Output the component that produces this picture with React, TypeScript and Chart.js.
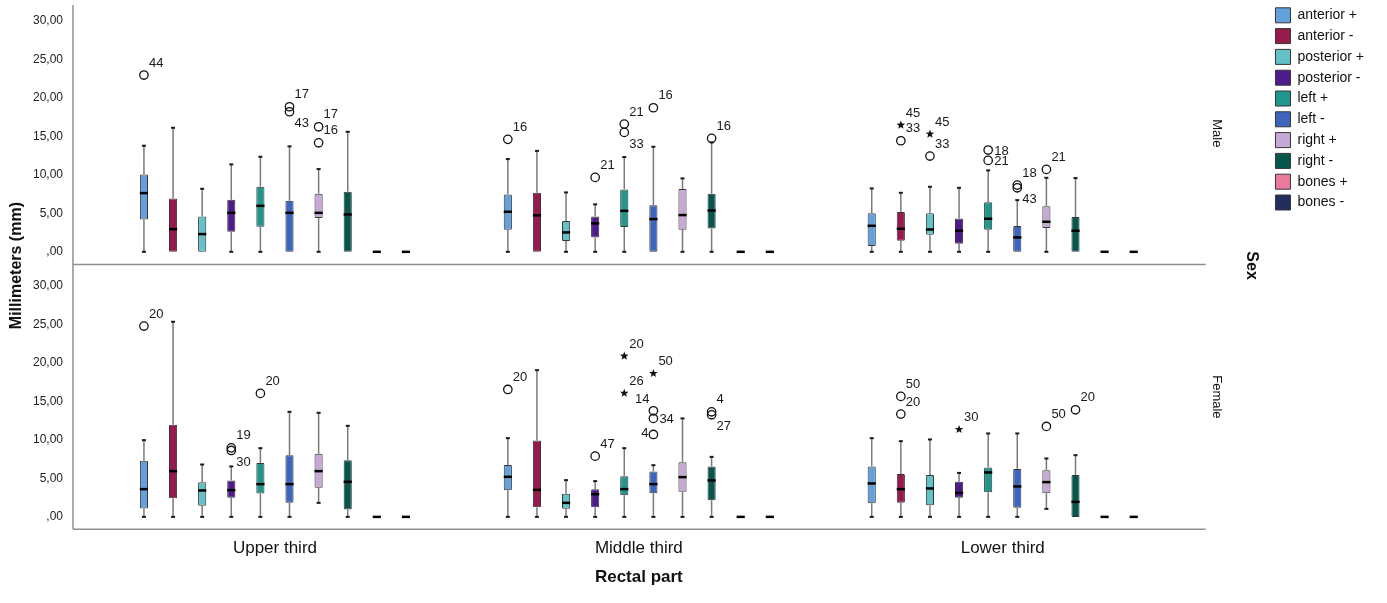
import React, { useEffect, useRef } from 'react';
import { Chart, registerables } from 'chart.js';

Chart.register(...registerables);

// ---------- data ----------
const regions = ['Upper third', 'Middle third', 'Lower third'];
const variables = ['anterior +', 'anterior -', 'posterior +', 'posterior -', 'left +', 'left -', 'right +', 'right -', 'bones +', 'bones -'];
const sexes = ['Male', 'Female'];
const yTicks = [0, 5, 10, 15, 20, 25, 30];

// five-number summaries per variable: [min, q1, median, q3, max]
const maleUpper = [
  [0, 4.2, 7.62, 10.05, 13.77],
  [0, 0, 2.95, 6.93, 16.1],
  [0, 0, 2.3, 4.6, 8.18],
  [0, 2.6, 5.06, 6.75, 11.35],
  [0, 3.25, 5.97, 8.44, 12.34],
  [0, 0, 5.06, 6.62, 13.69],
  [0, 4.38, 5.06, 7.53, 10.74],
  [0, 0, 4.85, 7.79, 15.58],
  [0, 0, 0, 0, 0],
  [0, 0, 0, 0, 0],
];
const maleMiddle = [
  [0, 2.86, 5.2, 7.45, 12.04],
  [0, 0, 4.73, 7.66, 13.1],
  [0, 1.39, 2.52, 3.99, 7.71],
  [0, 1.87, 3.69, 4.6, 6.16],
  [0, 3.21, 5.32, 8.1, 12.3],
  [0, 0, 4.25, 6.06, 13.64],
  [0, 2.86, 4.77, 8.14, 9.53],
  [0, 3.03, 5.36, 7.53, 14.2],
  [0, 0, 0, 0, 0],
  [0, 0, 0, 0, 0],
];
const maleLower = [
  [0, 0.74, 3.38, 4.99, 8.23],
  [0, 1.43, 2.99, 5.16, 7.66],
  [0, 2.2, 2.9, 4.99, 8.44],
  [0, 1.04, 2.73, 4.34, 8.31],
  [0, 2.86, 4.29, 6.45, 10.57],
  [0, 0, 1.87, 3.34, 6.71],
  [0, 3.08, 3.9, 5.92, 9.61],
  [0, 0, 2.73, 4.51, 9.57],
  [0, 0, 0, 0, 0],
  [0, 0, 0, 0, 0],
];
const femaleUpper = [
  [0, 1.09, 3.6, 7.27, 9.96],
  [0, 2.43, 5.94, 11.95, 25.33],
  [0, 1.43, 3.43, 4.51, 6.8],
  [0, 2.47, 3.47, 4.73, 6.55],
  [0, 3.04, 4.25, 7.01, 8.92],
  [0, 1.82, 4.25, 8.01, 13.64],
  [1.82, 3.77, 5.94, 8.18, 13.51],
  [0, 0.96, 4.55, 7.36, 11.82],
  [0, 0, 0, 0, 0],
  [0, 0, 0, 0, 0],
];
const femaleMiddle = [
  [0, 3.47, 5.2, 6.75, 10.22],
  [0, 1.26, 3.51, 9.92, 19.05],
  [0, 1.04, 1.82, 2.99, 4.77],
  [0, 1.26, 2.95, 3.6, 4.64],
  [0, 2.82, 3.6, 5.29, 8.92],
  [0, 3.08, 4.25, 5.9, 6.71],
  [0, 3.25, 5.16, 7.1, 12.78],
  [0, 2.17, 4.73, 6.55, 7.79],
  [0, 0, 0, 0, 0],
  [0, 0, 0, 0, 0],
];
const femaleLower = [
  [0, 1.78, 4.34, 6.55, 10.22],
  [0, 1.82, 3.6, 5.55, 9.83],
  [0, 1.52, 3.69, 5.42, 10.05],
  [0, 2.47, 3.12, 4.55, 5.71],
  [0, 3.21, 5.77, 6.42, 10.83],
  [0, 1.17, 3.95, 6.23, 10.83],
  [1.04, 3.08, 4.51, 6.06, 7.58],
  [0, 0, 1.95, 5.42, 8.01],
  [0, 0, 0, 0, 0],
  [0, 0, 0, 0, 0],
];
const summaries = [
  [maleUpper, maleMiddle, maleLower],
  [femaleUpper, femaleMiddle, femaleLower],
];

// outliers: [sex, region, variable, value, kind ('o' outlier / '*' extreme), case label, label side]
const outliers: [number, number, number, number, string, string, string][] = [
  [0, 0, 0, 22.95, 'o', '44', 'ur'],
  [0, 0, 5, 18.83, 'o', '17', 'ur'],
  [0, 0, 5, 18.18, 'o', '43', 'lr'],
  [0, 0, 6, 16.23, 'o', '17', 'ur'],
  [0, 0, 6, 14.15, 'o', '16', 'ur'],
  [0, 1, 0, 14.6, 'o', '16', 'ur'],
  [0, 1, 3, 9.66, 'o', '21', 'ur'],
  [0, 1, 4, 16.58, 'o', '21', 'ur'],
  [0, 1, 4, 15.5, 'o', '33', 'lr'],
  [0, 1, 5, 18.7, 'o', '16', 'ur'],
  [0, 1, 7, 14.73, 'o', '16', 'ur'],
  [0, 2, 1, 16.45, '*', '45', 'ur'],
  [0, 2, 1, 14.42, 'o', '33', 'ur'],
  [0, 2, 2, 15.29, '*', '45', 'ur'],
  [0, 2, 2, 12.43, 'o', '33', 'ur'],
  [0, 2, 4, 13.21, 'o', '18', 'r'],
  [0, 2, 4, 11.87, 'o', '21', 'r'],
  [0, 2, 5, 8.66, 'o', '18', 'ur'],
  [0, 2, 5, 8.31, 'o', '43', 'lr'],
  [0, 2, 6, 10.7, 'o', '21', 'ur'],
  [1, 0, 0, 24.77, 'o', '20', 'ur'],
  [1, 0, 3, 8.96, 'o', '19', 'ur'],
  [1, 0, 3, 8.62, 'o', '30', 'lr'],
  [1, 0, 4, 16.03, 'o', '20', 'ur'],
  [1, 1, 0, 16.54, 'o', '20', 'ur'],
  [1, 1, 3, 7.88, 'o', '47', 'ur'],
  [1, 1, 4, 20.87, '*', '20', 'ur'],
  [1, 1, 4, 16.06, '*', '26', 'ur'],
  [1, 1, 5, 18.62, '*', '50', 'ur'],
  [1, 1, 5, 13.77, 'o', '14', 'ul'],
  [1, 1, 5, 12.78, 'o', '34', 'r'],
  [1, 1, 5, 10.7, 'o', '4', 'l'],
  [1, 1, 7, 13.64, 'o', '4', 'ur'],
  [1, 1, 7, 13.25, 'o', '27', 'lr'],
  [1, 2, 1, 15.64, 'o', '50', 'ur'],
  [1, 2, 1, 13.34, 'o', '20', 'ur'],
  [1, 2, 3, 11.35, '*', '30', 'ur'],
  [1, 2, 6, 11.74, 'o', '50', 'ur'],
  [1, 2, 7, 13.9, 'o', '20', 'ur'],
];

// ---------- styles ----------
const colors = ['#64a0dc', '#961a4b', '#62c2c6', '#4f1a8c', '#1f978d', '#3c66be', '#c6a9d6', '#06564c', '#ea7a9c', '#232d5f'];
const FONT = "'Liberation Sans', Arial, sans-serif";
const axisIds = ['yM', 'yF'];

const fmt = (v: number | string) => {
  const n = Number(v);
  return n === 0 ? ',00' : n.toFixed(2).replace('.', ',');
};

function line(ctx: CanvasRenderingContext2D, x1: number, y1: number, x2: number, y2: number) {
  ctx.beginPath();
  ctx.moveTo(x1, y1);
  ctx.lineTo(x2, y2);
  ctx.stroke();
}

function star(ctx: CanvasRenderingContext2D, x: number, y: number, R: number, r: number) {
  ctx.beginPath();
  for (let i = 0; i < 10; i++) {
    const a = -Math.PI / 2 + (i * Math.PI) / 5;
    const rad = i % 2 === 0 ? R : r;
    const px = x + rad * Math.cos(a);
    const py = y + rad * Math.sin(a);
    if (i === 0) ctx.moveTo(px, py);
    else ctx.lineTo(px, py);
  }
  ctx.closePath();
  ctx.fill();
}

const boxPlugin = {
  id: 'boxExtras',
  afterDatasetsDraw(chart: any) {
    const ctx: CanvasRenderingContext2D = chart.ctx;
    ctx.save();
    chart.data.datasets.forEach((ds: any, di: number) => {
      const meta = chart.getDatasetMeta(di);
      const ys = chart.scales[ds.yAxisID];
      meta.data.forEach((el: any, r: number) => {
        const [mn, q1, md, q3, mx] = summaries[ds.sexIndex][r][ds.varIndex];
        const x = el.x;
        const hw = el.width / 2;
        ctx.lineCap = 'butt';
        ctx.strokeStyle = '#7a7a7a';
        ctx.lineWidth = 1.5;
        if (mx > q3) line(ctx, x, ys.getPixelForValue(q3), x, ys.getPixelForValue(mx));
        if (mn < q1) line(ctx, x, ys.getPixelForValue(q1), x, ys.getPixelForValue(mn));
        ctx.strokeStyle = '#1a1a1a';
        ctx.lineWidth = 2;
        if (mx > q3) line(ctx, x - 2, ys.getPixelForValue(mx), x + 2, ys.getPixelForValue(mx));
        if (mn < q1) line(ctx, x - 2, ys.getPixelForValue(mn), x + 2, ys.getPixelForValue(mn));
        ctx.strokeStyle = '#000';
        ctx.lineWidth = 2.5;
        const pm = ys.getPixelForValue(md);
        line(ctx, x - hw, pm, x + hw, pm);
      });
    });
    ctx.font = `13px ${FONT}`;
    ctx.textBaseline = 'middle';
    outliers.forEach(([s, r, k, value, kind, label, side]) => {
      const el = chart.getDatasetMeta(s * variables.length + k).data[r];
      const ys = chart.scales[axisIds[s]];
      const x = el.x;
      const y = ys.getPixelForValue(value);
      ctx.fillStyle = '#111';
      ctx.strokeStyle = '#111';
      ctx.lineWidth = 1.3;
      if (kind === 'o') {
        ctx.beginPath();
        ctx.arc(x, y, 4.2, 0, Math.PI * 2);
        ctx.stroke();
      } else {
        star(ctx, x, y, 4.5, 1.9);
      }
      ctx.fillStyle = '#1a1a1a';
      if (side === 'ur') { ctx.textAlign = 'left'; ctx.fillText(label, x + 5, y - 12); }
      else if (side === 'lr') { ctx.textAlign = 'left'; ctx.fillText(label, x + 5, y + 12); }
      else if (side === 'r') { ctx.textAlign = 'left'; ctx.fillText(label, x + 6, y + 1); }
      else if (side === 'ul') { ctx.textAlign = 'right'; ctx.fillText(label, x - 4, y - 11); }
      else { ctx.textAlign = 'right'; ctx.fillText(label, x - 5, y - 1); }
    });
    ctx.restore();
  },
};

const framePlugin = {
  id: 'frame',
  afterDraw(chart: any) {
    const ctx: CanvasRenderingContext2D = chart.ctx;
    const { chartArea } = chart;
    const yM = chart.scales.yM;
    const yF = chart.scales.yF;
    const xl = chartArea.left - 20;
    const xr = chartArea.right + 21;
    ctx.save();
    ctx.strokeStyle = '#8f8f8f';
    ctx.lineWidth = 1.5;
    line(ctx, xl, yM.top + 3, xl, yF.bottom);
    line(ctx, xl, yM.bottom, xr, yM.bottom);
    line(ctx, xl, yF.bottom, xr, yF.bottom);

    ctx.fillStyle = '#111';
    ctx.textAlign = 'center';
    ctx.textBaseline = 'middle';
    // y title
    ctx.save();
    ctx.translate(17, (yM.top + yF.bottom) / 2);
    ctx.rotate(-Math.PI / 2);
    ctx.font = `bold 16px ${FONT}`;
    ctx.fillText('Millimeters (mm)', 0, 0);
    ctx.restore();
    // panel labels
    [yM, yF].forEach((sc: any, i: number) => {
      ctx.save();
      ctx.translate(chartArea.right + 32, (sc.top + sc.bottom) / 2);
      ctx.rotate(Math.PI / 2);
      ctx.font = `13px ${FONT}`;
      ctx.fillText(sexes[i], 0, 0);
      ctx.restore();
    });
    ctx.save();
    ctx.translate(chartArea.right + 67, (yM.top + yF.bottom) / 2);
    ctx.rotate(Math.PI / 2);
    ctx.font = `bold 16px ${FONT}`;
    ctx.fillText('Sex', 0, 0);
    ctx.restore();
    ctx.restore();
  },
};

function buildDatasets() {
  const out: any[] = [];
  sexes.forEach((_, s) => {
    variables.forEach((v, k) => {
      out.push({
        label: v,
        data: regions.map((_r, r) => [summaries[s][r][k][1], summaries[s][r][k][3]]),
        yAxisID: axisIds[s],
        stack: 'v' + k,
        sexIndex: s,
        varIndex: k,
        backgroundColor: colors[k],
        borderColor: '#363636',
        borderWidth: 1,
        borderSkipped: false,
        borderRadius: 1,
        barPercentage: 0.28,
        categoryPercentage: 0.8,
      });
    });
  });
  return out;
}

function yScale(min: number, max: number, weight: number, stackWeight: number) {
  return {
    type: 'linear',
    position: 'left',
    stack: 'sex',
    stackWeight,
    weight,
    stacked: false,
    min,
    max,
    grid: { display: false, drawTicks: false },
    border: { display: false },
    ticks: { padding: 30, color: '#222', font: { size: 12, family: FONT }, callback: fmt, autoSkip: false },
    afterBuildTicks: (s: any) => { s.ticks = yTicks.map((v) => ({ value: v })); },
    afterFit: (s: any) => {
      s.width = 93;
      s.paddingTop = 0;
      s.paddingBottom = 0;
    },
  };
}

export default function App() {
  const ref = useRef<HTMLCanvasElement>(null);
  useEffect(() => {
    Chart.defaults.font.family = FONT;
    const chart = new Chart(ref.current as HTMLCanvasElement, {
      type: 'bar',
      data: { labels: regions, datasets: buildDatasets() },
      options: {
        responsive: false,
        animation: false,
        layout: { padding: { top: 2, right: 13, bottom: 0, left: 0 } },
        scales: {
          x: {
            type: 'category',
            grid: { display: false, drawTicks: false },
            border: { display: false },
            ticks: { padding: 9, color: '#111', font: { size: 17, family: FONT } },
            title: { display: true, text: 'Rectal part', color: '#111', font: { size: 17, weight: 'bold', family: FONT }, padding: { top: 0, bottom: 15 } },
          },
          yM: yScale(-1.66, 32.43, 2, 262.5),
          yF: yScale(-1.6, 32.75, 1, 264.5),
          gap: {
            type: 'linear',
            position: 'right',
            grid: { display: false, drawTicks: false },
            border: { display: false },
            ticks: { display: false },
            afterFit: (s: any) => { s.width = 85; },
          },
        },
        plugins: {
          title: { display: false },
          tooltip: { enabled: false },
          legend: {
            position: 'right',
            align: 'start',
            onClick: () => {},
            labels: {
              boxWidth: 15,
              boxHeight: 15,
              padding: 5.8,
              color: '#111',
              font: { size: 14, family: FONT },
              filter: (item: any) => item.datasetIndex < variables.length,
            },
          },
        },
      } as any,
      plugins: [boxPlugin, framePlugin],
    });
    return () => chart.destroy();
  }, []);
  return (
    <div style={{ position: 'absolute', left: 0, top: 0, width: 1387, height: 603, background: '#fff' }}>
      <canvas ref={ref} width={1387} height={603} style={{ display: 'block' }} />
    </div>
  );
}
